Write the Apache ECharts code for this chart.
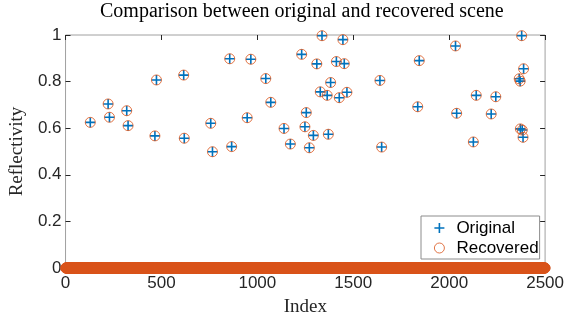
<!DOCTYPE html>
<html>
<head>
<meta charset="utf-8">
<script src="https://cdn.jsdelivr.net/npm/echarts@6/dist/echarts.min.js"></script>
<style>
  html, body { margin: 0; padding: 0; background: #fff; }
  #chart { width: 567px; height: 322px; }
</style>
</head>
<body>
<div id="chart"></div>
<script>
// signal length (index 1..N), everything not listed below is zero
const signalLength = 2500

// non-zero entries of the sparse scene
const spikeIndex = [
  129, 222, 229, 319, 326, 466, 474, 616, 619, 757,
  766, 856, 866, 947, 966, 1044, 1070, 1139, 1172, 1231,
  1248, 1255, 1271, 1292, 1310, 1328, 1337, 1364, 1370, 1382,
  1412, 1427, 1446, 1453, 1467, 1639, 1648, 1836, 1844, 2033,
  2039, 2126, 2141, 2219, 2243, 2365, 2370, 2371, 2378, 2381,
  2385, 2388
]
const originalSpikes = [
  0.625, 0.704, 0.647, 0.675, 0.611, 0.567, 0.807, 0.828, 0.557, 0.621,
  0.499, 0.898, 0.521, 0.645, 0.896, 0.813, 0.711, 0.599, 0.532, 0.917,
  0.606, 0.667, 0.516, 0.569, 0.876, 0.756, 0.997, 0.741, 0.574, 0.796,
  0.886, 0.731, 0.980, 0.877, 0.754, 0.805, 0.519, 0.692, 0.890, 0.953,
  0.664, 0.541, 0.741, 0.661, 0.735, 0.812, 0.802, 0.597, 0.997, 0.592,
  0.561, 0.855
]
const recoveredSpikes = [
  0.625, 0.704, 0.647, 0.675, 0.611, 0.567, 0.807, 0.828, 0.557, 0.621,
  0.499, 0.898, 0.521, 0.645, 0.896, 0.813, 0.711, 0.599, 0.532, 0.917,
  0.606, 0.667, 0.516, 0.569, 0.876, 0.756, 0.997, 0.741, 0.574, 0.796,
  0.886, 0.731, 0.980, 0.877, 0.754, 0.805, 0.519, 0.692, 0.890, 0.953,
  0.664, 0.541, 0.741, 0.661, 0.735, 0.812, 0.802, 0.597, 0.997, 0.592,
  0.561, 0.855
]

const seriesNames = ['Original', 'Recovered']

function buildSignal(values) {
  const data = []
  for (let i = 1; i <= signalLength; i++) data.push([i, 0])
  spikeIndex.forEach((idx, k) => { data[idx - 1] = [idx, values[k]] })
  return data
}

const plusPath = 'path://M42,0H58V42H100V58H58V100H42V58H0V42H42Z'
const frameColor = '#a0a0a0'
const tickColor = '#262626'
const sans = 'Liberation Sans, Arial, sans-serif'
const serif = 'Liberation Serif, Times New Roman, serif'

const chart = echarts.init(document.getElementById('chart'))

const tick = { show: true, inside: true, length: 5, lineStyle: { color: tickColor } }

// top / right axes only carry the inward ticks of the box
const sideAxis = {
  axisLine: { show: false, onZero: false },
  axisTick: tick,
  axisLabel: { show: false },
  splitLine: { show: false }
}

chart.setOption({
  animation: false,
  title: {
    text: 'Comparison between original and recovered scene',
    left: 100,
    top: 2,
    padding: 0,
    textStyle: { fontFamily: serif, fontSize: 20, fontWeight: 'normal', color: '#000' }
  },
  grid: {
    left: 64, right: 20, top: 35, bottom: 54, containLabel: false,
    show: true, borderColor: frameColor, borderWidth: 1, backgroundColor: 'transparent'
  },
  legend: {
    orient: 'vertical',
    left: 421,
    top: 216,
    padding: [2, 1, 1, 13],
    itemGap: 0,
    itemWidth: 24,
    itemHeight: 10,
    borderColor: '#8c8c8c',
    borderWidth: 1,
    backgroundColor: '#fff',
    textStyle: { fontFamily: sans, fontSize: 17, color: '#000', lineHeight: 20 },
    data: [
      { name: seriesNames[0], icon: plusPath, itemStyle: { color: '#0072BD' } },
      { name: seriesNames[1], icon: 'circle', itemStyle: { color: 'transparent', borderColor: '#D95319', borderWidth: 0.8 } }
    ]
  },
  xAxis: [{
    type: 'value',
    min: 0,
    max: 2500,
    interval: 500,
    name: 'Index',
    nameLocation: 'middle',
    nameGap: 30,
    nameTextStyle: { fontFamily: serif, fontSize: 19, color: '#262626' },
    axisLine: { show: false, onZero: false },
    axisTick: tick,
    axisLabel: { fontFamily: sans, fontSize: 17, color: '#262626', margin: 7, formatter: v => String(v) },
    splitLine: { show: false }
  }, {
    type: 'value', position: 'top', min: 0, max: 2500, interval: 500, ...sideAxis
  }],
  yAxis: [{
    type: 'value',
    min: 0,
    max: 1,
    interval: 0.2,
    name: 'Reflectivity',
    nameLocation: 'middle',
    nameGap: 23,
    nameTextStyle: { fontFamily: serif, fontSize: 19, color: '#262626' },
    axisLine: { show: false, onZero: false },
    axisTick: tick,
    axisLabel: { fontFamily: sans, fontSize: 17, color: '#262626', margin: 4 },
    splitLine: { show: false }
  }, {
    type: 'value', position: 'right', min: 0, max: 1, interval: 0.2, ...sideAxis
  }],
  series: [{
    name: seriesNames[0],
    type: 'scatter',
    symbol: plusPath,
    symbolSize: 10,
    itemStyle: { color: '#0072BD', opacity: 1 },
    data: buildSignal(originalSpikes)
  }, {
    name: seriesNames[1],
    type: 'scatter',
    symbol: 'circle',
    symbolSize: 10,
    itemStyle: { color: 'transparent', borderColor: '#D95319', borderWidth: 0.8, opacity: 1 },
    data: buildSignal(recoveredSpikes)
  }, {
    // binds the top / right tick axes, draws nothing
    type: 'scatter',
    xAxisIndex: 1,
    yAxisIndex: 1,
    symbolSize: 0,
    silent: true,
    data: [[0, 0]]
  }]
})
</script>
</body>
</html>
